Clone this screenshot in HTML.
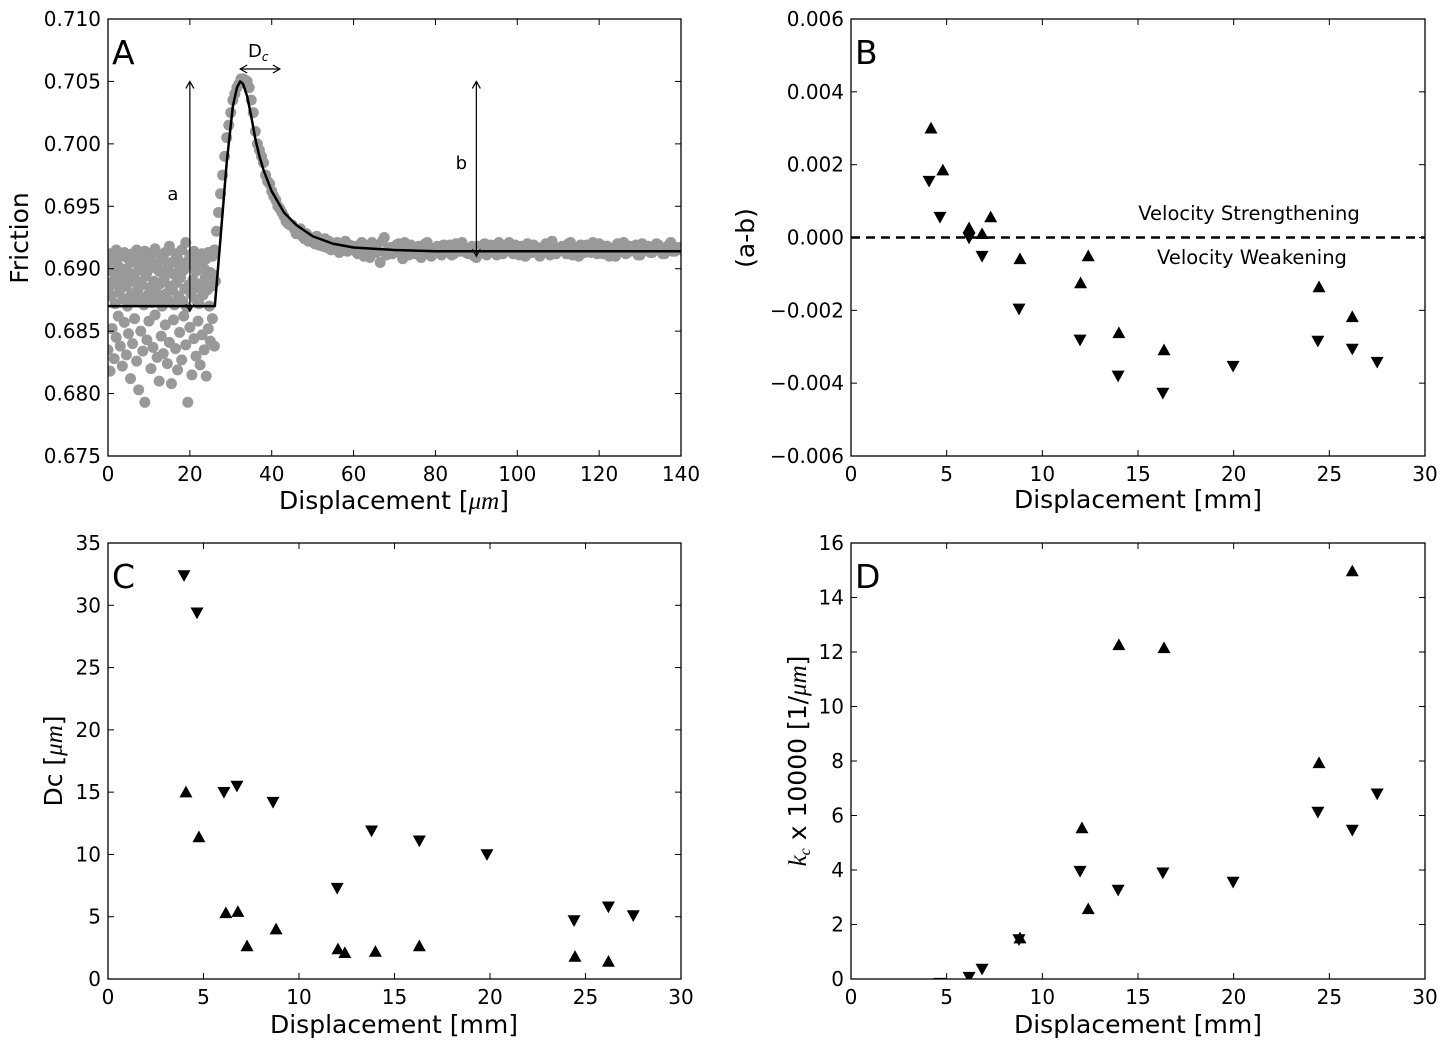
<!DOCTYPE html>
<html><head><meta charset="utf-8"><style>
html,body{margin:0;padding:0;background:#fff;}
svg{display:block;font-family:"DejaVu Sans","Liberation Sans",sans-serif;}
</style></head><body>
<svg id="fig" width="1447" height="1046" viewBox="0 0 1447 1046" xmlns="http://www.w3.org/2000/svg"></svg>
<script>
// ---------- Panel A data ----------
const leftBandA=[0.6905,0.6912,0.6898,0.6908,0.6915,0.6902,0.6895,0.6910,0.6913,0.6900,0.6908,0.6896,0.6912,0.6905,0.6915,0.6899,0.6909,0.6903,0.6914,0.6897,0.6906,0.6911,0.6901,0.6916,0.6904,0.6898,0.6910,0.6907,0.6913,0.6900,0.6918,0.6905,0.6896,0.6912,0.6908,0.6902,0.6915,0.6899,0.6921,0.6906,0.6911,0.6903,0.6914,0.6898,0.6909,0.6905,0.6912,0.6900,0.6908,0.6913,0.6897,0.6910,0.6915];
const leftBandB=[0.6885,0.6878,0.6890,0.6872,0.6888,0.6881,0.6893,0.6876,0.6886,0.6870,0.6889,0.6880,0.6874,0.6891,0.6883,0.6877,0.6887,0.6871,0.6894,0.6879,0.6885,0.6873,0.6890,0.6882,0.6876,0.6888,0.6870,0.6892,0.6880,0.6875,0.6886,0.6883,0.6871,0.6889,0.6878,0.6893,0.6874,0.6884,0.6869,0.6887,0.6880,0.6891,0.6876,0.6885,0.6872,0.6888,0.6879,0.6893,0.6883,0.6870,0.6886,0.6895,0.6890];
const leftLow=[0.6835,0.6818,0.6852,0.6828,0.6845,0.6862,0.6838,0.6822,0.6857,0.6831,0.6848,0.6812,0.6840,0.6860,0.6826,0.6803,0.6850,0.6834,0.6793,0.6843,0.6858,0.6820,0.6837,0.6863,0.6829,0.6810,0.6846,0.6832,0.6855,0.6824,0.6841,0.6808,0.6859,0.6836,0.6819,0.6849,0.6827,0.6862,0.6839,0.6793,0.6853,0.6815,0.6844,0.6830,0.6858,0.6823,0.6847,0.6835,0.6814,0.6852,0.6842,0.6860,0.6838];
const riseY=[0.6915,0.6930,0.6945,0.6960,0.6975,0.6990,0.7005,0.7015,0.7025,0.7035,0.7040,0.7045,0.7048,0.7052,0.7052,0.7051,0.7050,0.7045,0.7035,0.7025,0.7010,0.7000,0.6995,0.6990,0.6985,0.6975,0.6970,0.6968,0.6962,0.6958,0.6955,0.6950,0.6948,0.6945,0.6942,0.6938,0.6936,0.6935,0.6935,0.6932,0.6928,0.6930,0.6932,0.6926,0.6924,0.6928,0.6922,0.6925,0.6922,0.6920,0.6926,0.6919,0.6921,0.6918,0.6924,0.6917,0.6922,0.6915,0.6920,0.6918,0.6921,0.6913,0.6920,0.6917,0.6922,0.6914,0.6919,0.6916];
const tailA=[0.6918,0.6912,0.6921,0.6915,0.6909,0.6919,0.6914,0.6922,0.6911,0.6917,0.6913,0.6920,0.6908,0.6916,0.6919,0.6912,0.6918,0.6914,0.6921,0.6910,0.6916,0.6913,0.6919,0.6915,0.6911,0.6920,0.6914,0.6917,0.6912,0.6918,0.6909,0.6916,0.6920,0.6913,0.6917,0.6911,0.6919,0.6914,0.6921,0.6912,0.6916,0.6918,0.6910,0.6915,0.6919,0.6913,0.6917,0.6920,0.6911,0.6916,0.6914,0.6918,0.6912,0.6921,0.6915,0.6910,0.6917,0.6919,0.6913,0.6916,0.6920,0.6912,0.6918,0.6914,0.6910,0.6917,0.6921,0.6913,0.6916,0.6919,0.6911,0.6915,0.6918,0.6913,0.6920,0.6916,0.6912,0.6919,0.6914,0.6917,0.6915];
const tailB=[0.6914,0.6919,0.6910,0.6917,0.6921,0.6913,0.6905,0.6925,0.6916,0.6912,0.6919,0.6915,0.6921,0.6911,0.6917,0.6914,0.6909,0.6920,0.6916,0.6913,0.6918,0.6911,0.6915,0.6919,0.6912,0.6917,0.6921,0.6913,0.6916,0.6910,0.6918,0.6914,0.6911,0.6919,0.6915,0.6921,0.6912,0.6917,0.6914,0.6919,0.6911,0.6916,0.6920,0.6913,0.6917,0.6910,0.6915,0.6919,0.6922,0.6912,0.6917,0.6914,0.6920,0.6911,0.6916,0.6919,0.6913,0.6917,0.6921,0.6912,0.6915,0.6918,0.6910,0.6916,0.6920,0.6914,0.6912,0.6918,0.6915,0.6911,0.6920,0.6917,0.6913,0.6916,0.6919,0.6912,0.6917,0.6921,0.6914,0.6916,0.6918];
const fitX=[0,26.1,27.5,29,30.5,31.5,32.3,33,34,35,36,37,38,40,43,46,50,55,60,70,80,140];
const fitY=[0.6870,0.6870,0.6925,0.6985,0.7030,0.7045,0.7050,0.7048,0.7038,0.7022,0.7004,0.6990,0.6979,0.6962,0.6945,0.6935,0.6926,0.6920,0.6917,0.6915,0.6914,0.6914];
// ---------- Panel B data ----------
const bUpX=[4.18,4.8,6.17,6.85,7.3,8.83,12.0,12.4,14.0,16.36,24.46,26.2];
const bUpY=[0.0030,0.00185,0.00026,0.0001,0.00056,-0.00059,-0.00125,-0.00051,-0.00262,-0.00309,-0.00136,-0.00218];
const bDnX=[4.08,4.65,6.17,6.85,8.78,11.97,13.96,16.3,19.97,24.4,26.2,27.5];
const bDnY=[0.00155,0.00056,-0.00001,-0.00051,-0.00196,-0.00281,-0.0038,-0.00427,-0.00353,-0.00284,-0.00306,-0.00342];
// ---------- Panel C data ----------
const cUpX=[4.08,4.76,6.17,6.8,7.28,8.8,12.04,12.4,14.0,16.3,24.45,26.2];
const cUpY=[15.0,11.4,5.3,5.4,2.65,4.0,2.4,2.1,2.2,2.65,1.8,1.4];
const cDnX=[3.98,4.66,6.07,6.75,8.64,12.0,13.8,16.3,19.84,24.4,26.2,27.5];
const cDnY=[32.4,29.4,15.0,15.5,14.2,7.3,11.9,11.1,10.0,4.7,5.8,5.1];
// ---------- Panel D data ----------
const dUpX=[8.83,12.07,12.4,14.0,16.36,24.46,26.2];
const dUpY=[1.5,5.54,2.57,12.26,12.15,7.93,14.97];
const dDnX=[4.65,6.17,6.85,8.78,11.97,13.96,16.3,19.97,24.4,26.2,27.5];
const dDnY=[-0.15,0.07,0.37,1.45,3.96,3.27,3.9,3.56,6.13,5.47,6.8];
// ---------- tick labels ----------
const aXTicks=[0,20,40,60,80,100,120,140];
const aYTicks=[0.675,0.680,0.685,0.690,0.695,0.700,0.705,0.710];
const mmTicks=[0,5,10,15,20,25,30];
const bYTicks=[-0.006,-0.004,-0.002,0,0.002,0.004,0.006];
const cYTicks=[0,5,10,15,20,25,30,35];
const dYTicks=[0,2,4,6,8,10,12,14,16];

const NS="http://www.w3.org/2000/svg";
const svg=document.getElementById('fig');
const TITLE=25;
function el(tag,attrs,parent){const e=document.createElementNS(NS,tag);for(const k in attrs)e.setAttribute(k,attrs[k]);(parent||svg).appendChild(e);return e;}
function txt(s,x,y,size,anchor,parent,rot){const t=el('text',{x:x,y:y,'font-size':size,'text-anchor':anchor||'middle',fill:'#000'},parent);if(rot)t.setAttribute('transform','rotate(-90 '+x+' '+y+')');t.textContent=s;return t;}

function panel(name,L,R,T,B,xmin,xmax,ymin,ymax){
  const g=el('g',{});
  
  
  const p={g,L,R,T,B,sx:v=>L+(v-xmin)/(xmax-xmin)*(R-L),sy:v=>B-(v-ymin)/(ymax-ymin)*(B-T)};
  const cp=el('clipPath',{id:'clip-'+name},g);el('rect',{x:L,y:T,width:R-L,height:B-T},cp);
  p.data=el('g',{'clip-path':'url(#clip-'+name+')'},g);
  return p;
}
function frame(p,xt,yt,yfmt){
  const ax=el('g',{},p.g);
  
  
  el('rect',{x:p.L,y:p.T,width:p.R-p.L,height:p.B-p.T,fill:'none',stroke:'#000','stroke-width':1.3},ax);
  const xg=el('g',{},p.g);
  
  
  xt.forEach(v=>{const x=p.sx(v);
    el('line',{x1:x,y1:p.B,x2:x,y2:p.B-6,stroke:'#000'},xg);
    el('line',{x1:x,y1:p.T,x2:x,y2:p.T+6,stroke:'#000'},xg);
    txt(String(v),x,p.B+25,20,'middle',xg);});
  const yg=el('g',{},p.g);
  
  
  yt.forEach(v=>{const y=p.sy(v);
    el('line',{x1:p.L,y1:y,x2:p.L+6,y2:y,stroke:'#000'},yg);
    el('line',{x1:p.R,y1:y,x2:p.R-6,y2:y,stroke:'#000'},yg);
    txt(yfmt(v),p.L-7,y+7,20,'end',yg);});
}
function tri(p,xs,ys,up,name){
  const g=el('g',{},p.data);
  
  
  xs.forEach((xv,i)=>{const x=p.sx(xv),y=p.sy(ys[i]);const h=6.5;
    const pts=up?[[x,y-h],[x-h,y+h*0.8],[x+h,y+h*0.8]]:[[x,y+h],[x-h,y-h*0.8],[x+h,y-h*0.8]];
    const m=el('polygon',{points:pts.map(q=>q.join(',')).join(' '),fill:'#000'},g);
    
    });
}
function ylabel(s,x,y){const t=txt(s,x,y,TITLE,'middle',null,true);return t;}
function xlabel(s,x,y){const t=txt(s,x,y,TITLE,'middle');return t;}
function letter(s,x,y){const t=txt(s,x,y,33,'start');}
function arrowHead(g,x,y,dir){
  const s=7;let d;
  if(dir==='up')d=`M${x-4},${y+s} L${x},${y} L${x+4},${y+s}`;
  if(dir==='down')d=`M${x-4},${y-s} L${x},${y} L${x+4},${y-s}`;
  if(dir==='left')d=`M${x+s},${y-4} L${x},${y} L${x+s},${y+4}`;
  if(dir==='right')d=`M${x-s},${y-4} L${x},${y} L${x-s},${y+4}`;
  el('path',{d:d,fill:'none',stroke:'#000','stroke-width':1.2},g);
}

// ===== Panel A =====
const A=panel('panel-a-friction',108,681,19,456,0,140,0.675,0.710);
const sc=el('g',{fill:'#999999'},A.data);


function dot(xv,yv){el('circle',{cx:A.sx(xv),cy:A.sy(yv),r:5.5},sc);}
leftLow.forEach((v,i)=>dot(i*0.5,v));
leftBandB.forEach((v,i)=>dot(i*0.5+0.25,v));
leftBandA.forEach((v,i)=>dot(i*0.5,v));
riseY.forEach((v,i)=>dot(26+i*0.5,v));
tailA.forEach((v,i)=>dot(60+i,v));
tailB.forEach((v,i)=>dot(60.5+i,v));
const fit=el('polyline',{points:fitX.map((x,i)=>A.sx(x)+','+A.sy(fitY[i])).join(' '),fill:'none',stroke:'#000','stroke-width':2.5,'stroke-linejoin':'round'},A.data);


frame(A,aXTicks,aYTicks,v=>v.toFixed(3));
const ann=el('g',{},A.g);


{const x=A.sx(20),y1=A.sy(0.7050),y2=A.sy(0.6866);
 el('line',{x1:x,y1:y1,x2:x,y2:y2,stroke:'#000','stroke-width':1.2},ann);arrowHead(ann,x,y1,'up');arrowHead(ann,x,y2,'down');
 txt('a',x-17,A.sy(0.6955),18,'middle',ann);}
{const x=A.sx(90),y1=A.sy(0.7050),y2=A.sy(0.6910);
 el('line',{x1:x,y1:y1,x2:x,y2:y2,stroke:'#000','stroke-width':1.2},ann);arrowHead(ann,x,y1,'up');arrowHead(ann,x,y2,'down');
 txt('b',x-15,A.sy(0.6980),18,'middle',ann);}
{const y=69,x1=A.sx(32.3),x2=A.sx(42);
 el('line',{x1:x1,y1:y,x2:x2,y2:y,stroke:'#000','stroke-width':1.2},ann);arrowHead(ann,x1,y,'left');arrowHead(ann,x2,y,'right');
 const t=txt('D',248,57,18,'start',ann);const s=el('tspan',{'font-size':12,'font-style':'italic',dy:4},t);s.textContent='c';}
letter('A',112,64);
{const t=txt('',394,509,TITLE,'middle');
 const a=el('tspan',{},t);a.textContent='Displacement [';const b=el('tspan',{'font-style':'italic','font-family':'"Liberation Serif",serif'},t);b.textContent='μm';const c=el('tspan',{},t);c.textContent=']';}
ylabel('Friction',28,238);

// ===== Panel B =====
const Bp=panel('panel-b-a-minus-b',851,1425,19,456,0,30,-0.006,0.006);
const dl=el('line',{x1:851,y1:Bp.sy(0),x2:1425,y2:Bp.sy(0),stroke:'#000','stroke-width':2.5,'stroke-dasharray':'9,6'},Bp.data);


tri(Bp,bUpX,bUpY,true,'series-up-steps');
tri(Bp,bDnX,bDnY,false,'series-down-steps');
frame(Bp,mmTicks,bYTicks,v=>v===0?'0.000':(v<0?'\u2212':'')+Math.abs(v).toFixed(3));
{const t=txt('Velocity Strengthening',1249,220,19.5,'middle',Bp.g);}
{const t=txt('Velocity Weakening',1252,264,19.5,'middle',Bp.g);}
letter('B',855,64);
xlabel('Displacement [mm]',1138,508);
ylabel('(a-b)',754,238);

// ===== Panel C =====
const Cp=panel('panel-c-dc',108,681,543,979,0,30,0,35);
tri(Cp,cUpX,cUpY,true,'series-up-steps');
tri(Cp,cDnX,cDnY,false,'series-down-steps');
frame(Cp,mmTicks,cYTicks,v=>String(v));
letter('C',112,588);
xlabel('Displacement [mm]',394,1033);
{const t=txt('',62,761,TITLE,'middle',null,true);
 const a=el('tspan',{},t);a.textContent='Dc [';const b=el('tspan',{'font-style':'italic','font-family':'"Liberation Serif",serif'},t);b.textContent='μm';const c=el('tspan',{},t);c.textContent=']';}

// ===== Panel D =====
const Dp=panel('panel-d-kc',851,1425,543,979,0,30,0,16);
tri(Dp,dUpX,dUpY,true,'series-up-steps');
tri(Dp,dDnX,dDnY,false,'series-down-steps');
frame(Dp,mmTicks,dYTicks,v=>String(v));
letter('D',855,588);
xlabel('Displacement [mm]',1138,1033);
{const t=txt('',806,761,TITLE,'middle',null,true);
 const a=el('tspan',{'font-style':'italic','font-family':'"Liberation Serif",serif'},t);a.textContent='k';
 const s=el('tspan',{'font-style':'italic','font-size':16,dy:4,'font-family':'"Liberation Serif",serif'},t);s.textContent='c';
 const b=el('tspan',{dy:-4},t);b.textContent=' x 10000 [1/';
 const c=el('tspan',{'font-style':'italic','font-family':'"Liberation Serif",serif'},t);c.textContent='μm';
 const d=el('tspan',{},t);d.textContent=']';}
</script>
</body></html>
